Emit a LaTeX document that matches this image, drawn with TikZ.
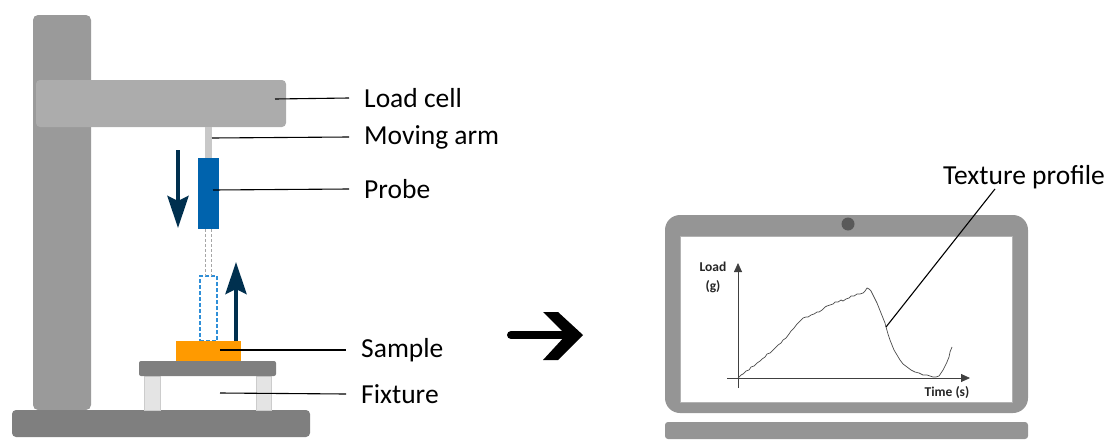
\documentclass[tikz,border=0pt]{standalone}
\usepackage{fontspec}
\setmainfont{Carlito}
\usetikzlibrary{arrows.meta}
\definecolor{standgray}{HTML}{9A9A9A}
\definecolor{armgray}{HTML}{ACACAC}
\definecolor{basegray}{HTML}{7F7F7F}
\definecolor{rodgray}{HTML}{C8C8C8}
\definecolor{legfill}{HTML}{E4E4E4}
\definecolor{probeblue}{HTML}{0063AD}
\definecolor{dashblue}{HTML}{2F8FD8}
\definecolor{sampleorange}{HTML}{FF9A00}
\definecolor{motionnavy}{HTML}{00304F}
\definecolor{laptopgray}{HTML}{959595}

\begin{document}
\begin{tikzpicture}[x=1pt,y=-1pt,>={Stealth[length=32pt,width=21pt,inset=5pt]},
  part/.style={rectangle,inner sep=0pt,outer sep=0pt},
  tag/.style={anchor=west,inner xsep=15pt,inner ysep=0pt,font=\fontsize{27.5}{33}\selectfont},
  leader/.style={line width=1.1pt,black},
  motion/.style={->,line width=4.5pt,motionnavy},
  guide/.style={line width=1pt,black!35,dash pattern=on 3pt off 2pt},
  axis/.style={-{Triangle[length=9pt,width=8pt]},line width=0.8pt,black!75},
  plotlabel/.style={font=\bfseries\fontsize{13.5}{19}\selectfont,align=center,text=black!85}]
\useasboundingbox (0,0) rectangle (1110,439);

% stand
\node[part,fill=standgray,rounded corners=5,minimum width=58,minimum height=395] (column) at (62,212.5) {};
\node[part,fill=basegray,rounded corners=4,minimum width=298,minimum height=27] (base) at (161,423.5) {};
\node[part,fill=armgray,rounded corners=4,minimum width=250,minimum height=47] (loadcell) at (161,103.5) {};
\node[part,fill=rodgray,minimum width=7,minimum height=31] (rod) at (208.5,142.5) {};
\node[part,fill=probeblue,minimum width=21,minimum height=71] (probe) at (208.5,193.5) {};
\node[part,draw=dashblue,line width=1.5pt,dash pattern=on 4pt off 2pt,minimum width=17,minimum height=65] (ghost) at (208.5,308.5) {};
\draw[guide] ([xshift=-3.5pt]probe.south) -- ([xshift=-3.5pt]ghost.north);
\draw[guide] ([xshift=2.5pt]probe.south) -- ([xshift=2.5pt]ghost.north);
\node[part,fill=legfill,draw=black!20,minimum width=16,minimum height=34] (legA) at (152,393) {};
\node[part,fill=legfill,draw=black!20,minimum width=15,minimum height=34] (legB) at (263.5,393) {};
\node[part,fill=basegray,rounded corners=2,minimum width=137,minimum height=15] (platform) at (207.5,368.5) {};
\node[part,fill=sampleorange,minimum width=65,minimum height=20] (sample) at (208.5,351) {};

\draw[motion] (178,150) -- (178,228);
\draw[motion] (236,341) -- (236,262);

\coordinate (loadcellpt) at (275,99);
\coordinate (rodpt) at (212,138);
\coordinate (probept) at (213,190);
\coordinate (samplept) at (220,350);
\coordinate (fixturept) at (220,393);
\node[tag] (loadcelltag) at (349,98) {Load cell};
\node[tag] (rodtag) at (349,137) {Moving arm};
\node[tag] (probetag) at (349,189) {Probe};
\node[tag] (sampletag) at (346,350) {Sample};
\node[tag] (fixturetag) at (346,394) {Fixture};
\draw[leader] (loadcellpt) -- (loadcelltag.west);
\draw[leader] (rodpt) -- (rodtag.west);
\draw[leader] (probept) -- (probetag.west);
\draw[leader] (samplept) -- (sampletag.west);
\draw[leader] (fixturept) -- (fixturetag.west);

% arrow to the laptop
\draw[line width=8pt,line cap=round] (511,335) -- (566,335);
\fill (543,312) -- (558,312) -- (583,335) -- (558,360) -- (543,360) -- (566,335) -- cycle;

% laptop
\fill[laptopgray,rounded corners=15] (665,215) rectangle (1028,413);
\fill[white] (680,236) rectangle (1012,402);
\draw[black!30,line width=0.6pt] (680,236) rectangle (1012,402);
\fill[black!65] (848,224) circle[radius=6.5];
\fill[laptopgray,rounded corners=3] (665,422) rectangle (1028,439);

\draw[axis] (738,388) -- (738,263);
\draw[axis] (727,378) -- (970,378);
\node[plotlabel] (loadaxis) at (713,277) {Load\\(g)};
\node[plotlabel] (timeaxis) at (947,393) {Time (s)};
\draw[black!70,line width=0.7pt,line join=round] plot coordinates {
  (738,378) (741,375) (743,374) (746,371) (749,370) (751,367) (754,366) (757,363)
  (760,361) (762,359) (765,357) (767,354) (770,353) (773,350) (775,348) (778,345)
  (781,343) (783,340) (786,338) (789,334) (791,331) (794,328) (797,324) (799,322)
  (801,320) (803,318) (806,317) (808,317) (811,315) (814,314) (817,312) (819,312)
  (822,310) (825,307) (827,306) (830,305) (833,304) (835,302) (838,302) (841,300)
  (843,301) (846,299) (849,298) (851,296) (854,296) (857,294) (860,294) (863,293)
  (865,291) (867,288) (869,289) (871,291) (873,295) (875,299) (877,303) (879,308)
  (881,313) (883,318) (885,323) (886,327) (888,334) (890,340) (892,345) (894,350)
  (897,355) (900,360) (903,364) (907,367) (911,370) (915,372) (919,373) (923,375)
  (927,375) (930,376) (933,377) (936,377) (939,376) (941,373) (943,370) (945,366)
  (947,362) (949,357) (950,352) (952,347)};

\coordinate (profilept) at (886,327);
\node[font=\fontsize{27.5}{33}\selectfont,inner sep=0pt] (profiletag) at (1024,177) {Texture profile};
\draw[leader] (profilept) -- ([xshift=52pt]profiletag.south west);

\end{tikzpicture}
\end{document}
